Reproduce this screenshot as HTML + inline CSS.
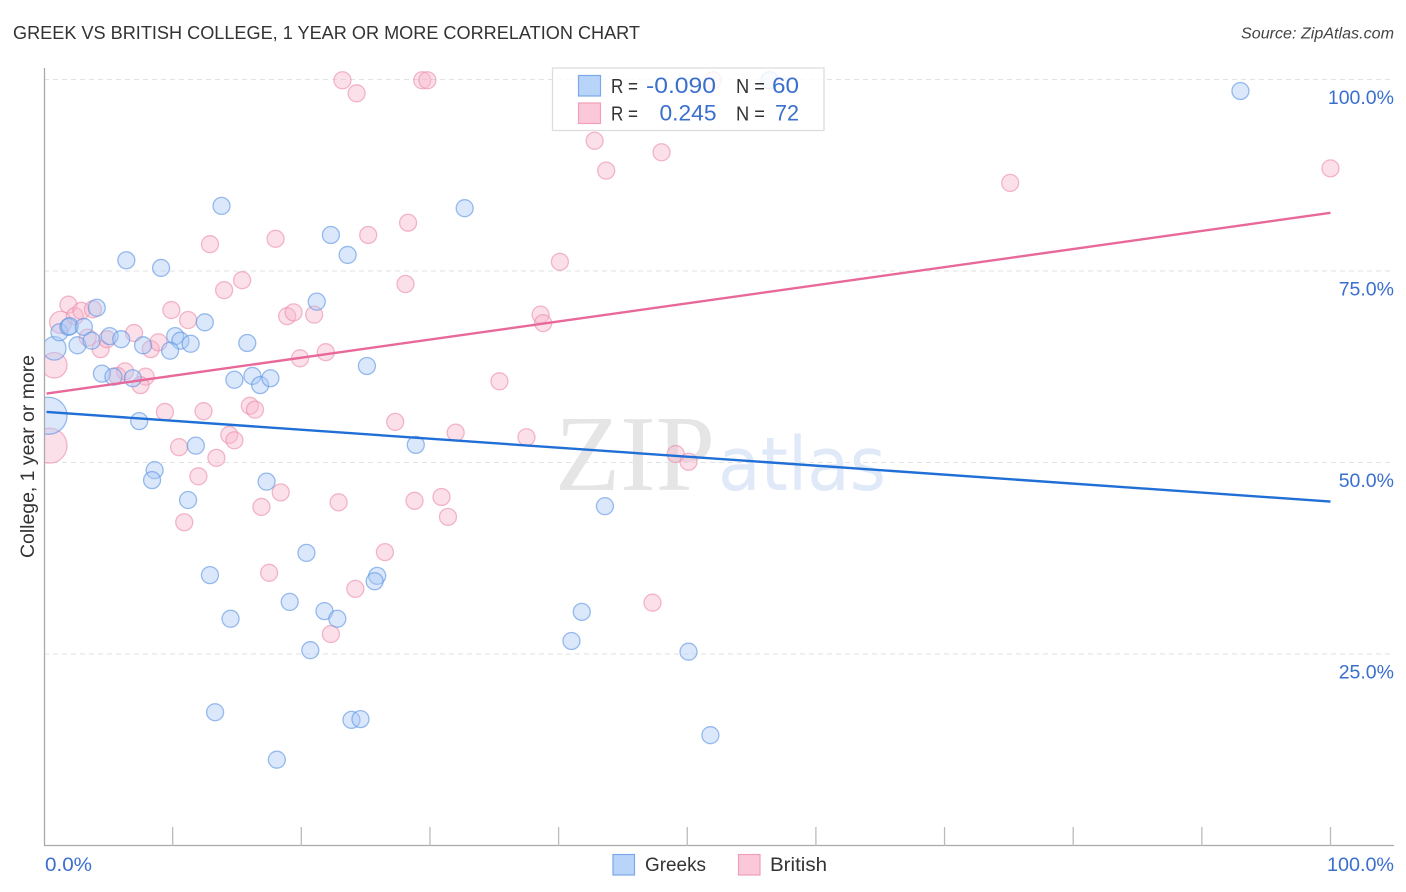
<!DOCTYPE html>
<html lang="en">
<head>
<meta charset="utf-8">
<title>Greek vs British College, 1 Year or More Correlation Chart</title>
<style>
html,body{margin:0;padding:0;background:#fff;width:1406px;height:892px;overflow:hidden}
svg{display:block;font-family:"Liberation Sans",sans-serif}
</style>
</head>
<body>
<svg id="chart" width="1406" height="892" viewBox="0 0 1406 892" xmlns="http://www.w3.org/2000/svg">
  <defs><clipPath id="plot-clip"><rect x="45" y="60" width="1361" height="786"/></clipPath></defs>
  <text x="13" y="39" font-size="18.5" fill="#333" textLength="627" lengthAdjust="spacingAndGlyphs">GREEK VS BRITISH COLLEGE, 1 YEAR OR MORE CORRELATION CHART</text>
  <text x="1394" y="38.500" font-size="15.500" font-style="italic" fill="#444" text-anchor="end" textLength="153" lengthAdjust="spacingAndGlyphs">Source: ZipAtlas.com</text>
  <g id="grid"></g>
  <text x="555" y="490" font-family="'Liberation Serif',serif" font-size="108" fill="#e5e5e5" textLength="160" lengthAdjust="spacingAndGlyphs">ZIP</text>
  <text x="718" y="490" style="font-family:'DejaVu Sans',sans-serif" font-size="74" fill="#dfe9f8" textLength="168" lengthAdjust="spacingAndGlyphs">atlas</text>
  <g id="points" clip-path="url(#plot-clip)"></g>
  <g id="trends"></g>
  <g id="axes">
    <line x1="44.500" y1="68" x2="44.500" y2="846" stroke="#aaa" stroke-width="1.300"/>
    <line x1="44" y1="845.500" x2="1394" y2="845.500" stroke="#aaa" stroke-width="1.300"/>
  </g>
  <g id="tick-labels"></g>
  <text transform="translate(34,456.500) rotate(-90)" font-size="19" fill="#333" text-anchor="middle" textLength="203" lengthAdjust="spacingAndGlyphs">College, 1 year or more</text>
  <g>
    <rect x="552.500" y="68" width="271.500" height="62.500" fill="#fff" fill-opacity="0.82" stroke="#ddd" stroke-width="1.300"/>
    <rect x="578.500" y="75.500" width="22" height="20.500" fill="#b9d4f9" stroke="#7aa8e8" stroke-width="1.200"/>
    <rect x="578.500" y="103" width="22" height="20.500" fill="#fbc8d9" stroke="#f0a0b8" stroke-width="1.200"/>
    <text x="611" y="93" font-size="20" fill="#333" textLength="27" lengthAdjust="spacingAndGlyphs">R =</text>
    <text x="646" y="93" font-size="22" fill="#3a6fce" textLength="70" lengthAdjust="spacingAndGlyphs">-0.090</text>
    <text x="736" y="93" font-size="20" fill="#333" textLength="29" lengthAdjust="spacingAndGlyphs">N =</text>
    <text x="772" y="93" font-size="22" fill="#3a6fce" textLength="27" lengthAdjust="spacingAndGlyphs">60</text>
    <text x="611" y="120.500" font-size="20" fill="#333" textLength="27" lengthAdjust="spacingAndGlyphs">R =</text>
    <text x="659.500" y="120.500" font-size="22" fill="#3a6fce" textLength="57" lengthAdjust="spacingAndGlyphs">0.245</text>
    <text x="736" y="120.500" font-size="20" fill="#333" textLength="29" lengthAdjust="spacingAndGlyphs">N =</text>
    <text x="775" y="120.500" font-size="22" fill="#3a6fce" textLength="24" lengthAdjust="spacingAndGlyphs">72</text>
  </g>
  <g>
    <rect x="613" y="854.500" width="21.500" height="20.500" fill="#b9d4f9" stroke="#7aa8e8" stroke-width="1.200"/>
    <text x="645" y="871" font-size="19" fill="#333" textLength="61" lengthAdjust="spacingAndGlyphs">Greeks</text>
    <rect x="738.500" y="854.500" width="21.500" height="20.500" fill="#fbc8d9" stroke="#f0a0b8" stroke-width="1.200"/>
    <text x="770" y="871" font-size="19" fill="#333" textLength="57" lengthAdjust="spacingAndGlyphs">British</text>
  </g>
</svg>
<script>
const greekX = [0.35,0.8,1.2,1.9,2.0,3.1,4.1,2.6,3.7,5.1,6.0,4.5,5.4,6.9,7.7,6.4,9.1,7.4,8.6,8.4,10.2,10.6,11.4,9.8,12.5,13.8,14.8,15.8,16.2,16.8,17.6,11.8,11.2,12.9,14.5,17.3,20.4,19.1,21.8,22.8,20.7,13.3,23.9,24.6,18.1,22.3,23.6,21.2,25.1,32.7,28.9,25.9,25.7,43.6,41.8,41.0,50.1,51.8,56.4,93.0];
const greekY = [56.1,64.9,67.0,67.7,67.8,67.7,70.2,65.3,65.9,66.5,66.1,61.6,61.2,61.0,65.3,76.4,75.4,55.4,49.0,47.7,66.5,65.9,65.5,64.6,68.3,83.5,60.8,65.6,61.3,60.1,61.0,52.2,45.1,35.3,29.6,47.5,38.2,31.8,30.6,29.6,25.5,17.4,16.4,16.5,11.2,79.7,77.1,71.0,62.6,83.2,52.3,35.2,34.5,44.3,30.5,26.7,25.3,14.4,99.9,98.5];
const greekWeight = [2.18,1.38];
const britishX = [0.43,0.8,1.3,1.9,2.4,2.9,3.8,3.4,4.4,4.9,7.0,6.3,5.7,7.9,7.5,8.3,8.9,9.9,11.2,9.4,10.5,12.4,12.9,14.0,15.4,18.0,18.9,19.4,21.0,21.9,19.9,12.0,10.9,13.4,14.4,14.8,16.0,16.4,16.9,18.4,17.5,22.9,22.3,24.2,26.5,27.3,28.8,30.9,31.4,32.0,35.4,37.5,38.6,38.8,40.1,25.2,28.3,28.1,23.2,24.3,29.4,29.8,42.8,43.7,48.0,47.3,49.1,50.1,52.0,75.1,100.0];
const britishY = [52.2,62.7,68.3,70.6,69.1,69.8,70.0,66.3,64.8,66.1,66.9,61.9,61.3,61.2,60.1,64.8,65.7,69.9,68.6,56.6,52.0,56.7,78.5,72.5,73.8,79.2,69.1,69.6,69.3,64.4,63.6,48.2,42.2,50.6,53.6,52.9,57.4,56.9,44.2,46.1,35.6,44.8,27.6,33.5,38.3,55.3,45.0,45.5,42.9,53.9,60.6,53.3,69.3,68.2,76.2,79.7,81.3,73.3,99.9,98.2,99.9,99.9,92.0,88.1,90.5,31.7,51.1,50.1,99.9,86.5,88.4];
const britishWeight = [2.06,1.5,1.3];
const greekTrendX = [0.2,100];
const greekTrendY = [56.6,44.9];
const britishTrendX = [0.2,100];
const britishTrendY = [59.0,82.6];
const gridValues = [100,75,50,25];
const yTickLabels = ["100.0%","75.0%","50.0%","25.0%"];
const xTickValues = [10,20,30,40,50,60,70,80,90,100];
const xEndValues = [0,100];
const xEndLabels = ["0.0%","100.0%"];

const NS = "http://www.w3.org/2000/svg";
function xScale(v){ return 44 + v * 12.865; }
function yScale(v){ return 845.5 - v * 7.66; }
function make(tag, attrs, parent){
  const el = document.createElementNS(NS, tag);
  Object.keys(attrs).forEach(function(k){ el.setAttribute(k, attrs[k]); });
  parent.appendChild(el);
  return el;
}
const gridG = document.getElementById("grid");
const axesG = document.getElementById("axes");
const labelsG = document.getElementById("tick-labels");
const pointsG = document.getElementById("points");
const trendsG = document.getElementById("trends");

gridValues.forEach(function(v, i){
  const line = make("line", {x1:44, x2:1394, y1:yScale(v), y2:yScale(v), stroke:"#dfe3e2", "stroke-width":1, "stroke-dasharray":"5 4"}, gridG);
  
  
  const label = make("text", {x:1394, y:yScale(v)+24.5, "font-size":19.5, fill:"#3a6fce", "text-anchor":"end"}, labelsG);
  label.textContent = yTickLabels[i];
  
  
});
xTickValues.forEach(function(v){
  const tick = make("line", {x1:xScale(v), x2:xScale(v), y1:827, y2:846, stroke:"#bbb", "stroke-width":1.3}, axesG);
  
  
});
xEndValues.forEach(function(v, i){
  const label = make("text", {x:i===0 ? xScale(v)+1 : 1394, y:871, "font-size":19.5, fill:"#3a6fce", "text-anchor":i===0 ? "start" : "end", textLength:i===0 ? 47 : 67, lengthAdjust:"spacingAndGlyphs"}, labelsG);
  label.textContent = xEndLabels[i];
  
  
});
function drawSeries(xs, ys, weights, fill, stroke, name){
  xs.forEach(function(v, i){
    const r = 8.5 * (weights[i] || 1);
    const c = make("circle", {cx:xScale(v), cy:yScale(ys[i]), r:r, fill:fill, "fill-opacity":0.42, stroke:stroke, "stroke-opacity":0.62, "stroke-width":1.3}, pointsG);
    
    
  });
}
drawSeries(britishX, britishY, britishWeight, "#f9b4ca", "#ec8eab", "british-point");
drawSeries(greekX, greekY, greekWeight, "#a9c9f6", "#5d95e2", "greek-point");

const greekLine = make("line", {x1:xScale(greekTrendX[0]), y1:yScale(greekTrendY[0]), x2:xScale(greekTrendX[1]), y2:yScale(greekTrendY[1]), stroke:"#1f6fd6", "stroke-width":2.4}, trendsG);


const britishLine = make("line", {x1:xScale(britishTrendX[0]), y1:yScale(britishTrendY[0]), x2:xScale(britishTrendX[1]), y2:yScale(britishTrendY[1]), stroke:"#e8689a", "stroke-width":2.4}, trendsG);


</script>
</body>
</html>
